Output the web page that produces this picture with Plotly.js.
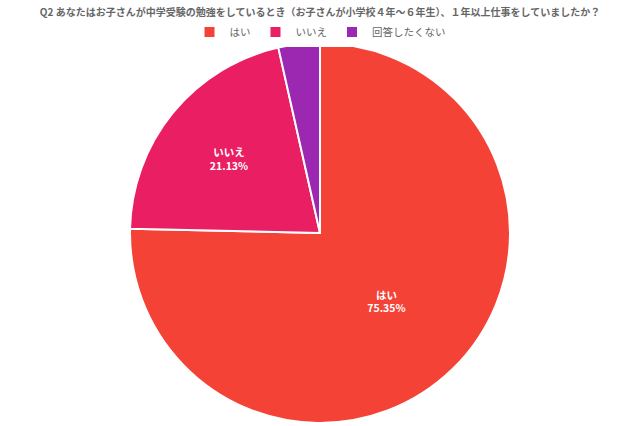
<!DOCTYPE html>
<html>
<head>
<meta charset="utf-8">
<script src="https://cdn.plot.ly/plotly-3.0.1.min.js"></script>
<style>html,body{margin:0;padding:0;background:#fff;}#chart{width:640px;height:426px;}</style>
</head>
<body>
<div id="chart"></div>
<script>
const titleText = 'Q2 あなたはお子さんが中学受験の勉強をしているとき（お子さんが小学校４年〜６年生）、１年以上仕事をしていましたか？';
const labels = ['はい', 'いいえ', '回答したくない'];
const values = [75.35, 21.13, 3.52];
const colors = ['#F44336', '#E91E63', '#9C27B0'];
const showText = [true, true, false];

const font = '"Noto Sans CJK JP", "Noto Sans", sans-serif';

const trace = {
  type: 'pie',
  labels: labels,
  values: values,
  sort: false,
  direction: 'clockwise',
  rotation: 0,
  marker: {colors: colors, line: {color: '#ffffff', width: 2}},
  texttemplate: labels.map((l, i) => showText[i] ? '<b>%{label}<br>%{value:.2f}%</b>' : ''),
  textposition: 'inside',
  insidetextorientation: 'horizontal',
  insidetextfont: {color: '#ffffff', size: 10.5, family: font},
  hoverinfo: 'none',
  domain: {x: [0, 1], y: [0, 1]}
};

const layout = {
  width: 640, height: 426,
  margin: {l: 130, r: 130, t: 43, b: 3},
  paper_bgcolor: '#ffffff',
  title: {
    text: '<b>' + titleText + '</b>',
    font: {family: font, size: 10, color: '#666666'},
    x: 0.5, xanchor: 'center', xref: 'paper',
    y: 1 - 12/426, yref: 'container', yanchor: 'middle', automargin: false
  },
  showlegend: true,
  legend: {
    orientation: 'h', x: 0.5, xanchor: 'center', y: (426 - 3 - 32) / 380, yanchor: 'middle',
    font: {family: font, size: 10.5, color: '#666666'},
    itemwidth: 30, tracegroupgap: 0
  }
};

Plotly.newPlot('chart', [trace], layout, {displayModeBar: false, staticPlot: true});
</script>
</body>
</html>
